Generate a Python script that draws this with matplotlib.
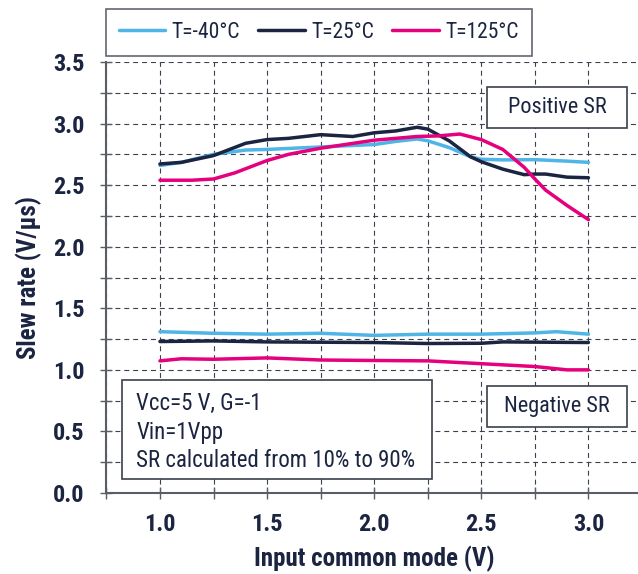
import matplotlib
matplotlib.use("Agg")
import matplotlib.pyplot as plt
from matplotlib.patches import Rectangle
import numpy as np

plt.rcParams['font.family'] = ['Roboto Condensed', 'DejaVu Sans']

# ---------------- data ----------------
labels = ["T=-40°C", "T=25°C", "T=125°C"]
colors = ["#4fb4e6", "#1b2440", "#e5007d"]

x_m40_pos = [1.0, 1.1, 1.25, 1.4, 1.5, 1.75, 2.0, 2.1, 2.2, 2.25, 2.35, 2.45, 2.5, 2.6, 2.75, 2.9, 3.0]
y_m40_pos = [2.66, 2.685, 2.75, 2.785, 2.79, 2.81, 2.83, 2.855, 2.875, 2.86, 2.805, 2.73, 2.71, 2.705, 2.707, 2.695, 2.685]

x_25_pos = [1.0, 1.1, 1.25, 1.4, 1.5, 1.6, 1.75, 1.9, 2.0, 2.1, 2.2, 2.25, 2.35, 2.45, 2.5, 2.6, 2.7, 2.75, 2.8, 2.9, 3.0]
y_25_pos = [2.672, 2.685, 2.74, 2.84, 2.87, 2.88, 2.91, 2.895, 2.925, 2.94, 2.97, 2.955, 2.86, 2.73, 2.69, 2.63, 2.585, 2.59, 2.59, 2.565, 2.56]

x_125_pos = [1.0, 1.15, 1.25, 1.35, 1.5, 1.6, 1.75, 2.0, 2.1, 2.2, 2.3, 2.4, 2.5, 2.6, 2.7, 2.75, 2.8, 2.9, 3.0]
y_125_pos = [2.54, 2.54, 2.55, 2.60, 2.70, 2.75, 2.80, 2.865, 2.88, 2.895, 2.90, 2.915, 2.87, 2.79, 2.645, 2.55, 2.46, 2.335, 2.22]

x_m40_neg = [1.0, 1.25, 1.5, 1.75, 2.0, 2.25, 2.5, 2.75, 2.85, 3.0]
y_m40_neg = [1.31, 1.297, 1.29, 1.297, 1.28, 1.29, 1.29, 1.30, 1.31, 1.29]

x_25_neg = [1.0, 1.25, 1.5, 2.0, 2.25, 2.5, 2.6, 3.0]
y_25_neg = [1.23, 1.235, 1.227, 1.222, 1.214, 1.216, 1.227, 1.222]

x_125_neg = [1.0, 1.1, 1.25, 1.5, 1.75, 2.0, 2.25, 2.5, 2.75, 2.9, 3.0]
y_125_neg = [1.073, 1.09, 1.086, 1.097, 1.08, 1.076, 1.073, 1.05, 1.027, 1.0, 1.0]

xticks = [1.0, 1.5, 2.0, 2.5, 3.0]
yticks = [0.0, 0.5, 1.0, 1.5, 2.0, 2.5, 3.0, 3.5]

txt_col = "#1b2440"
grid_col = "#3c4150"
spine_col = "#5a5d66"

fig = plt.figure(figsize=(6.38, 5.74), dpi=100)
ax = fig.add_axes([106.4 / 638, 1 - 493 / 574, (642 - 106.4) / 638, (493 - 62) / 574])

series = [
    (x_m40_pos, y_m40_pos, x_m40_neg, y_m40_neg),
    (x_25_pos, y_25_pos, x_25_neg, y_25_neg),
    (x_125_pos, y_125_pos, x_125_neg, y_125_neg),
]
for (xp, yp, xn, yn), c, lab in zip(series, colors, labels):
    ax.plot(xp, yp, color=c, lw=2.5, label=lab, solid_capstyle='round', solid_joinstyle='round', zorder=3)
    ax.plot(xn, yn, color=c, lw=2.5, solid_capstyle='round', solid_joinstyle='round', zorder=3)

ax.set_xlim(0.75, 3.25)
ax.set_ylim(0, 3.5)
ax.set_xticks(xticks)
ax.set_xticklabels([f"{v:.1f}" for v in xticks])
ax.set_yticks(yticks)
ax.set_yticklabels([f"{v:.1f}" for v in yticks])
ax.set_xticks(np.arange(0.75, 3.26, 0.25), minor=True)
ax.set_yticks(np.arange(0.25, 3.5, 0.5), minor=True)

for s in ["top", "right"]:
    ax.spines[s].set_visible(False)
for s in ["left", "bottom"]:
    ax.spines[s].set_color(spine_col)
    ax.spines[s].set_linewidth(1.5)

ax.grid(True, which="both", linestyle=(0, (4.5, 3.5)), color=grid_col, linewidth=0.8, zorder=1)
ax.tick_params(which="both", direction="inout", length=9, width=1, color=spine_col,
               labelsize=17.5, labelcolor=txt_col)
ax.tick_params(axis="y", which="major", pad=11)
ax.tick_params(axis="x", which="major", pad=10)
for lab in ax.get_xticklabels() + ax.get_yticklabels():
    lab.set_fontweight("bold")

ax.set_xlabel("Input common mode (V)", fontsize=18, color=txt_col, fontweight="bold", labelpad=7)
ax.set_ylabel("Slew rate (V/µs)", fontsize=18, color=txt_col, fontweight="bold", labelpad=8)

leg = fig.legend(loc="upper left", bbox_to_anchor=(106 / 638, 1 - 9 / 574), ncol=3,
                 frameon=True, fancybox=False, fontsize=15.5, handlelength=2.15,
                 columnspacing=0.85, handletextpad=0.3, borderpad=0.6, borderaxespad=0)
leg.get_frame().set_edgecolor("#3a3f4c")
leg.get_frame().set_linewidth(1.2)
for t in leg.get_texts():
    t.set_color(txt_col)
for h in leg.get_lines():
    h.set_linewidth(2.5)

def box(x0, y0, x1, y1):
    ax.add_patch(Rectangle((x0, y0), x1 - x0, y1 - y0, facecolor="white",
                           edgecolor="#3a3f4c", linewidth=1.2, zorder=5))

box(2.527, 2.96, 3.18, 3.30)
ax.text((2.527 + 3.18) / 2, 3.13, "Positive SR", fontsize=16, color=txt_col, ha="center", va="center", zorder=6)
box(2.527, 0.536, 3.18, 0.868)
ax.text((2.527 + 3.18) / 2, 0.70, "Negative SR", fontsize=16, color=txt_col, ha="center", va="center", zorder=6)
box(0.821, 0.114, 2.268, 0.917)
cond_lines = ["Vcc=5 V, G=-1", "Vin=1Vpp", "SR calculated from 10% to 90%"]
for i, line in enumerate(cond_lines):
    ax.text(0.89, 0.73 - i * 0.235, line, fontsize=16.5, color=txt_col, ha="left", va="center", zorder=6)

fig.savefig("out.png", dpi=100)
